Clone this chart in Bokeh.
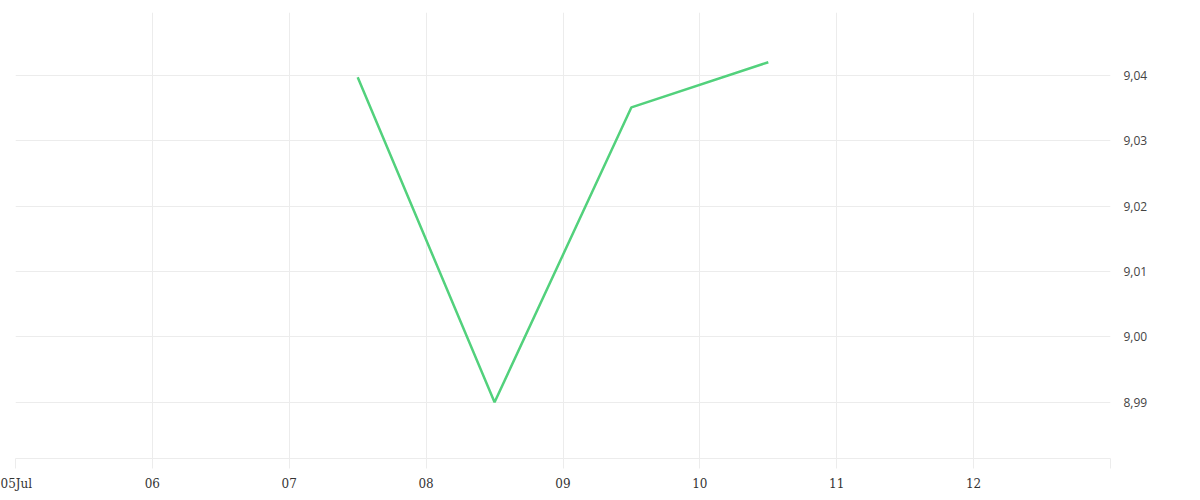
from datetime import datetime
from bokeh.plotting import figure
from bokeh.models import FixedTicker, CustomJSTickFormatter, LinearAxis, Range1d
from bokeh.embed import file_html
from bokeh.resources import INLINE

dates = [datetime(2023, 7, 7, 12), datetime(2023, 7, 8, 12), datetime(2023, 7, 9, 12), datetime(2023, 7, 10, 12)]
values = [9.0397, 8.9900, 9.0351, 9.0420]

x_tick_days = [datetime(2023, 7, d) for d in range(5, 14)]
x_tick_labels = ["05Jul", "06", "07", "08", "09", "10", "11", "12", ""]
y_ticks = [8.99, 9.00, 9.01, 9.02, 9.03, 9.04]

def ms(d):
    return (d - datetime(1970, 1, 1)).total_seconds() * 1000.0

p = figure(x_axis_type="datetime", frame_width=1095, frame_height=446,
           min_border_left=15, min_border_top=12, min_border_right=10, min_border_bottom=10,
           output_backend="svg", toolbar_location=None, y_axis_location=None,
           x_range=Range1d(ms(x_tick_days[0]), ms(x_tick_days[-1])),
           y_range=Range1d(8.9814, 9.0496))
p.outline_line_color = None
p.background_fill_color = "white"
p.border_fill_color = "white"

p.line([ms(d) for d in dates], values, line_color="#52d17c", line_width=2.5)

xa = p.xaxis[0]
xa.ticker = FixedTicker(ticks=[ms(d) for d in x_tick_days])
xa.major_label_overrides = {ms(d): lab for d, lab in zip(x_tick_days, x_tick_labels)}
xa.axis_line_color = "#ececec"
xa.major_tick_line_color = "#ececec"
xa.major_tick_out = 10
xa.major_tick_in = 0
xa.minor_tick_line_color = None
xa.major_label_standoff = 8
xa.major_label_text_font = "DejaVu Serif"
xa.major_label_text_font_size = "12px"
xa.major_label_text_color = "#333333"

ya = LinearAxis(ticker=FixedTicker(ticks=y_ticks),
                formatter=CustomJSTickFormatter(code="return tick.toFixed(2).replace('.', ',');"))
ya.axis_line_color = None
ya.major_tick_line_color = None
ya.minor_tick_line_color = None
ya.major_label_standoff = 7
ya.major_label_text_font = "Open Sans"
ya.major_label_text_font_size = "12px"
ya.major_label_text_color = "#444444"
p.add_layout(ya, "right")

p.xgrid.ticker = FixedTicker(ticks=[ms(d) for d in x_tick_days])
p.xgrid.grid_line_color = "#ececec"
p.ygrid.ticker = FixedTicker(ticks=y_ticks)
p.ygrid.grid_line_color = "#ececec"

open("out.html", "w").write(file_html(p, INLINE))
